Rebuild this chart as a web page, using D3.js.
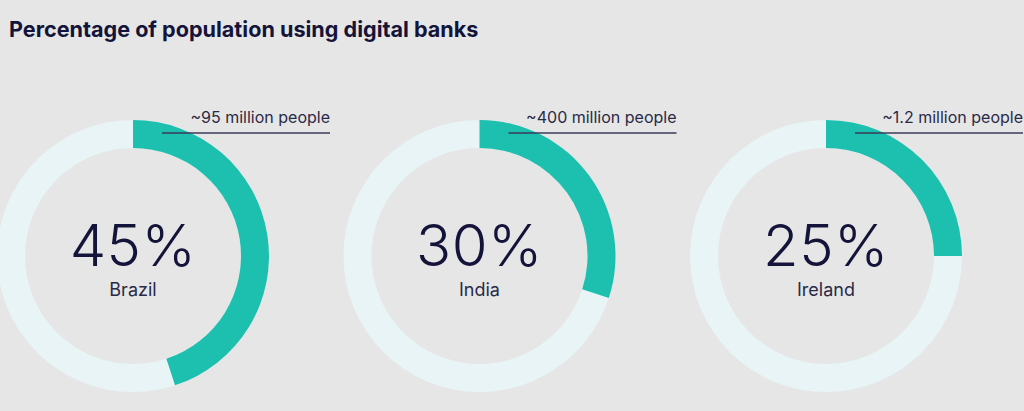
<!DOCTYPE html>
<html>
<head>
<meta charset="utf-8">
<script src="https://cdn.jsdelivr.net/npm/d3@7/dist/d3.min.js"></script>
<style>
  html, body { margin: 0; padding: 0; background: #e6e6e6; }
  svg { display: block; font-family: Inter, "Noto Sans", sans-serif; }
</style>
</head>
<body>
<svg id="chart" width="1024" height="411"></svg>
<script>
const countries = ["Brazil", "India", "Ireland"];
const shares = [45, 30, 25];
const peopleNotes = ["~95 million people", "~400 million people", "~1.2 million people"];
const title = "Percentage of population using digital banks";

const width = 1024;
const height = 411;
const ink = "#14143a";
const teal = "#1dbfae";
const track = "#e8f4f6";

const svg = d3.select("#chart");

svg.append("rect")
  .attr("width", width)
  .attr("height", height)
  .attr("fill", "#e6e6e6");

svg.append("text")
  .attr("x", 9)
  .attr("y", 37)
  .attr("font-size", 21.6)
  .attr("font-weight", 700)
  .attr("fill", ink)
  .text(title);

// one donut per country, spaced with a point scale
const xScale = d3.scalePoint()
  .domain(countries)
  .range([133, 826]);

const angle = d3.scaleLinear()
  .domain([0, 100])
  .range([0, 2 * Math.PI]);

const outerR = 136;
const innerR = 108;
const cy = 256;

const arc = d3.arc()
  .innerRadius(innerR)
  .outerRadius(outerR);

const groups = svg.selectAll(".donut")
  .data(countries.map((name, i) => ({ name, value: shares[i], note: peopleNotes[i] })))
  .join("g")
  .attr("class", "donut")
  .attr("transform", (d) => `translate(${xScale(d.name)},${cy})`);

groups.append("path")
  .attr("fill", track)
  .attr("d", arc({ startAngle: 0, endAngle: angle(100) }));

groups.append("path")
  .attr("fill", teal)
  .attr("d", (d) => arc({ startAngle: 0, endAngle: angle(d.value) }));

groups.append("text")
  .attr("x", 0)
  .attr("y", 10)
  .attr("text-anchor", "middle")
  .attr("font-size", 58)
  .attr("font-weight", 300)
  .attr("letter-spacing", 0.5)
  .attr("fill", ink)
  .text((d) => `${d.value}%`);

groups.append("text")
  .attr("x", 0)
  .attr("y", 40)
  .attr("text-anchor", "middle")
  .attr("font-size", 18)
  .attr("fill", "#2a2a48")
  .text((d) => d.name);

// people annotation with underline
groups.append("line")
  .attr("x1", 29)
  .attr("x2", 197)
  .attr("y1", -123)
  .attr("y2", -123)
  .attr("stroke", "#3a3a58")
  .attr("stroke-width", 1.3);

groups.append("text")
  .attr("x", 197)
  .attr("y", -133)
  .attr("text-anchor", "end")
  .attr("font-size", 16)
  .attr("fill", "#2a2a48")
  .text((d) => d.note);
</script>
</body>
</html>
